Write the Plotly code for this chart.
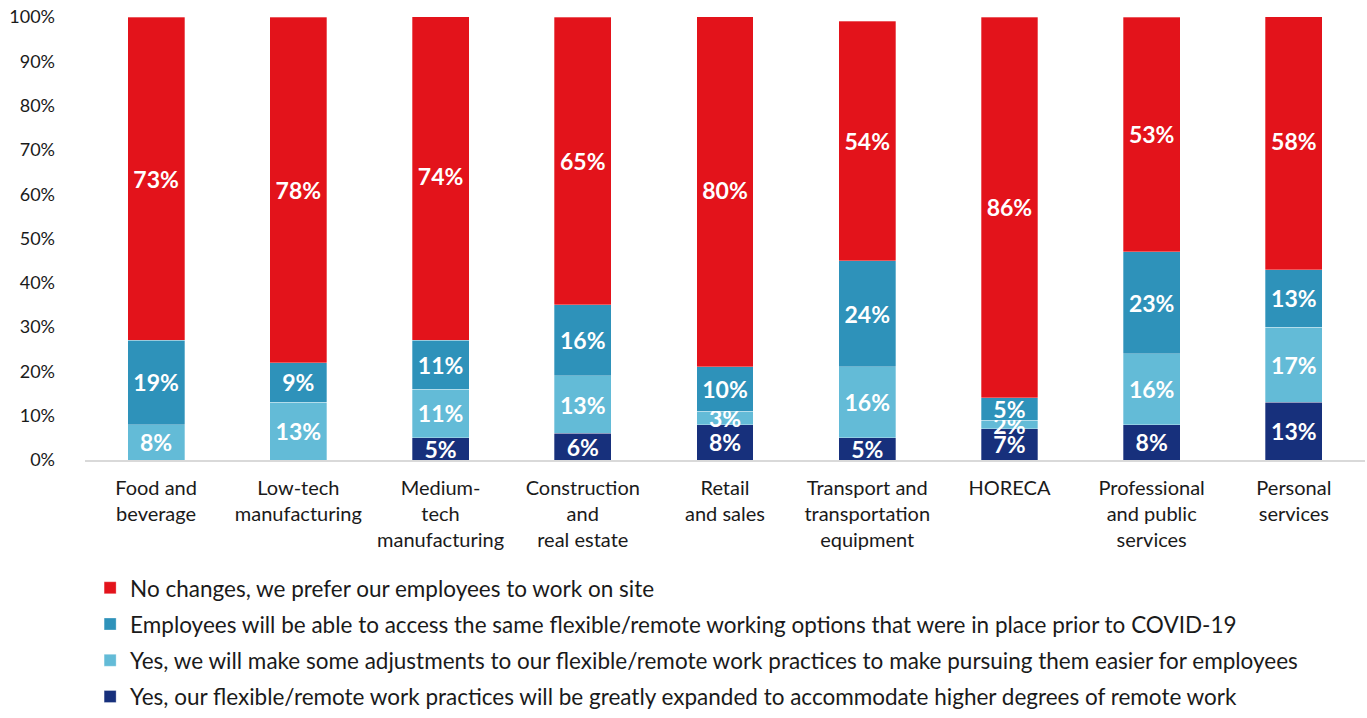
import plotly.graph_objects as go

categories = [
    "Food and<br>beverage",
    "Low-tech<br>manufacturing",
    "Medium-<br>tech<br>manufacturing",
    "Construction<br>and<br>real estate",
    "Retail<br>and sales",
    "Transport and<br>transportation<br>equipment",
    "HORECA",
    "Professional<br>and public<br>services",
    "Personal<br>services",
]

greatly_expanded = [0, 0, 5, 6, 8, 5, 7, 8, 13]
some_adjustments = [8, 13, 11, 13, 3, 16, 2, 16, 17]
same_as_before = [19, 9, 11, 16, 10, 24, 5, 23, 13]
no_changes = [73, 78, 74, 65, 80, 54, 86, 53, 58]

# (legend label, values, colour, legend rank) — stacked bottom to top
series = [
    ("Yes, our flexible/remote work practices will be greatly expanded to accommodate higher degrees of remote work",
     greatly_expanded, "#17307C", 4),
    ("Yes, we will make some adjustments to our flexible/remote work practices to make pursuing them easier for employees",
     some_adjustments, "#63BBD7", 3),
    ("Employees will be able to access the same flexible/remote working options that were in place prior to COVID-19",
     same_as_before, "#2E92BA", 2),
    ("No changes, we prefer our employees to work on site",
     no_changes, "#E3131B", 1),
]

FONT = "Lato, 'Open Sans', sans-serif"

fig = go.Figure()
for name, vals, color, rank in series:
    fig.add_trace(go.Bar(
        x=categories,
        y=vals,
        name=name,
        marker=dict(color=color, line=dict(color="rgba(255,255,255,0.6)", width=0.5)),
        text=[f"{v}%" if v > 0 else "" for v in vals],
        textposition="inside",
        insidetextanchor="middle",
        textangle=0,
        constraintext="none",
        textfont=dict(family=FONT, size=23, color="white", weight="bold"),
        legendgroup=name,
        legendrank=rank,
    ))

fig.update_layout(
    barmode="stack",
    bargap=0.6,
    width=1367,
    height=718,
    margin=dict(l=85, r=2, t=17, b=257),
    plot_bgcolor="white",
    paper_bgcolor="white",
    font=dict(family=FONT, size=20, color="#1a1a1a"),
    showlegend=True,
    legend=dict(
        traceorder="grouped",
        orientation="v",
        x=0.004,
        xanchor="left",
        y=-0.578,
        yanchor="bottom",
        font=dict(family=FONT, size=22.5, color="#1a1a1a"),
        tracegroupgap=4,
        itemwidth=30,
    ),
)

fig.update_yaxes(
    range=[0, 100],
    tickvals=[0, 10, 20, 30, 40, 50, 60, 70, 80, 90, 100],
    ticktext=[f"{v}%" for v in range(0, 101, 10)],
    showgrid=False,
    zeroline=False,
    showline=False,
    ticklabelstandoff=29,
    tickfont=dict(family=FONT, size=18, color="#1a1a1a"),
)
fig.update_xaxes(
    showline=True,
    linecolor="#D9D9D9",
    linewidth=2,
    tickangle=0,
    ticklabelstandoff=9,
    tickfont=dict(family=FONT, size=20, color="#1a1a1a"),
)

fig.write_html("out.html")
